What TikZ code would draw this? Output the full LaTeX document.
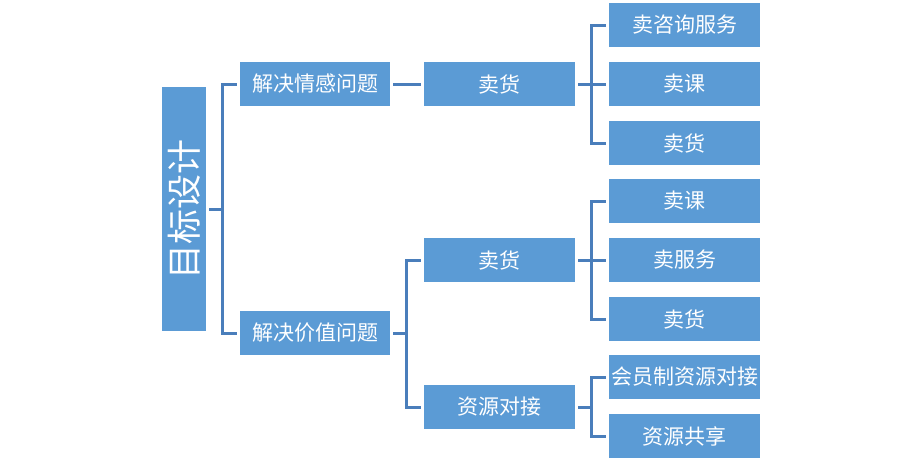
\documentclass[tikz,border=0pt]{standalone}
\usepackage{fontspec}
\setmainfont{Noto Sans CJK SC}
\definecolor{boxblue}{RGB}{91,155,213}
\definecolor{lineblue}{RGB}{74,126,187}
\begin{document}
\begin{tikzpicture}[x=1pt,y=-1pt,
  box/.style={fill=boxblue,draw=none,text=white,minimum width=151pt,minimum height=44pt,inner sep=0pt,font=\fontsize{21}{25}\selectfont},
  conn/.style={draw=lineblue,line width=3pt}]
\useasboundingbox (0,0) rectangle (921,461);
\node[fill=boxblue,minimum width=44pt,minimum height=244pt,inner sep=0pt,text=white,font=\fontsize{35}{40}\selectfont] (root) at (184,209) {\rotatebox{90}{目标设计}};
\node[box,minimum width=150pt] (a) at (315,84) {解决情感问题};
\node[box,minimum width=150pt] (b) at (315,333) {解决价值问题};
\node[box] (a1) at (499.5,84) {卖货};
\node[box] (b1) at (499.5,260) {卖货};
\node[box] (b2) at (499.5,407) {资源对接};
\node[box] (a11) at (684.5,25) {卖咨询服务};
\node[box] (a12) at (684.5,84) {卖课};
\node[box] (a13) at (684.5,143) {卖货};
\node[box] (b11) at (684.5,201) {卖课};
\node[box] (b12) at (684.5,260) {卖服务};
\node[box] (b13) at (684.5,319) {卖货};
\node[box] (b21) at (684.5,377) {会员制资源对接};
\node[box] (b22) at (684.5,436) {资源共享};
\foreach \p/\c in {root/a,root/b,a/a1,b/b1,b/b2,a1/a11,a1/a12,a1/a13,b1/b11,b1/b12,b1/b13,b2/b21,b2/b22}
  \draw[conn] ([xshift=3pt]\p.east) -- ++(13.5,0) |- ([xshift=-3pt]\c.west);
\end{tikzpicture}
\end{document}
